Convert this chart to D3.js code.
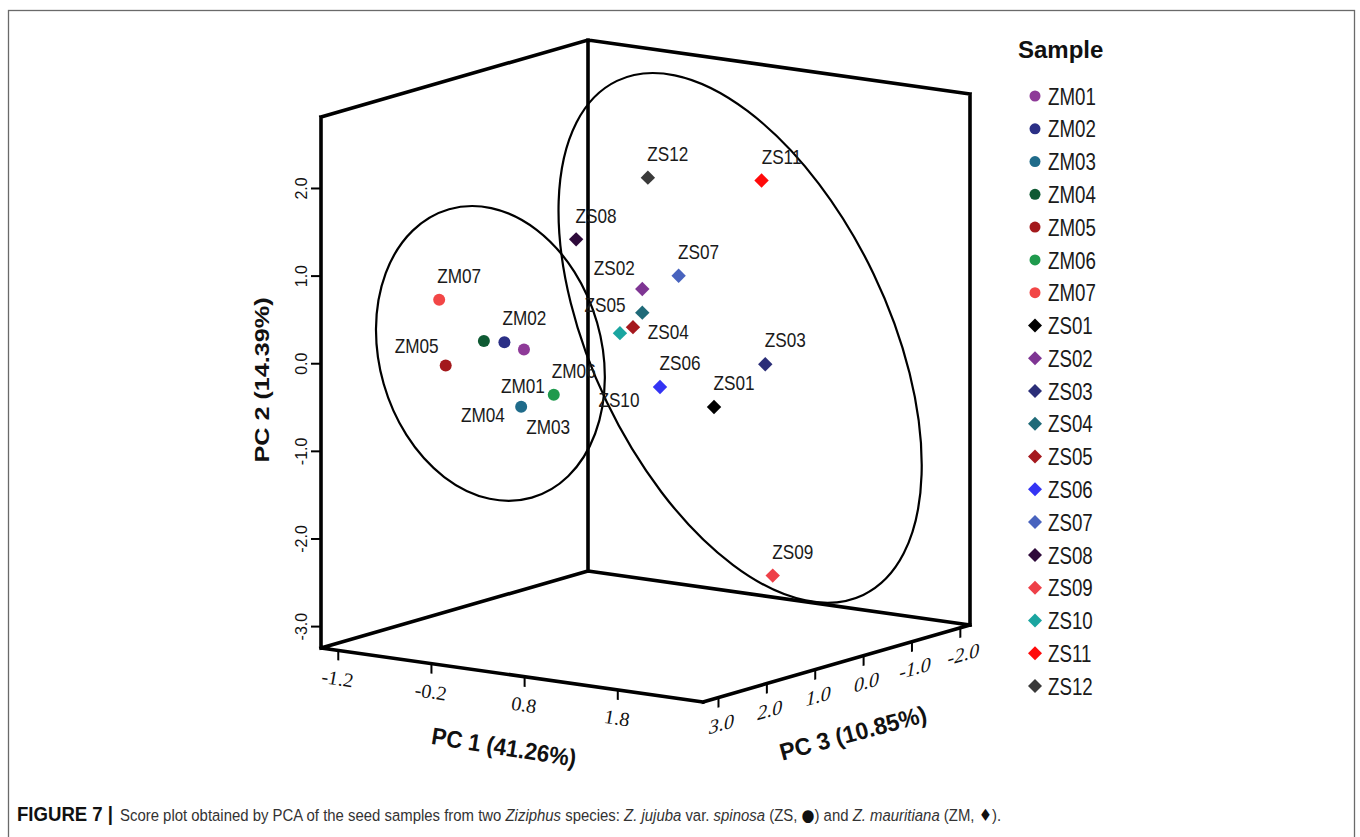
<!DOCTYPE html>
<html>
<head>
<meta charset="utf-8">
<script src="https://cdn.jsdelivr.net/npm/d3@7"></script>
<style>
  html, body { margin: 0; padding: 0; background: #ffffff; }
  svg { display: block; }
</style>
</head>
<body>
<svg id="chart" width="1360" height="837"></svg>
<script>
// ---------------- DATA ----------------
const samples = ["ZM01","ZM02","ZM03","ZM04","ZM05","ZM06","ZM07",
                 "ZS01","ZS02","ZS03","ZS04","ZS05","ZS06","ZS07","ZS08","ZS09","ZS10","ZS11","ZS12"];
// scores read in the PC3 = 0 depth plane (depth cannot be recovered from a 2-D picture)
const pc1Scores = [-0.92,-1.13,-0.95,-1.35,-1.76,-0.60,-1.83,
                    1.12, 0.35, 1.67, 0.35, 0.25, 0.54, 0.74,-0.36, 1.75, 0.11, 1.63, 0.41];
const pc2Scores = [-0.30,-0.25,-0.96,-0.27,-0.61,-0.77, 0.13,
                   -0.65, 0.58,-0.08, 0.31, 0.13,-0.51, 0.79, 1.04,-2.48, 0.04, 2.01, 1.86];
const sampleColors = ["#8e3a98","#2b2f86","#1f6b8a","#0f5a33","#a3191c","#1f9a4d","#f24646",
                      "#000000","#7e3593","#2b2e78","#1f6a78","#a5181e","#3434f4","#4863be",
                      "#2e0a3a","#ee4048","#1aa5a0","#ff0a0a","#3a3a3a"];
const pc1Domain = [-1.38, 2.72];
const pc2Domain = [-3.25, 2.81];
const pc3Domain = [3.31, -2.21];
const pc3Plane = 0;
const pc1Ticks = [-1.2, -0.2, 0.8, 1.8];
const pc2Ticks = [2.0, 1.0, 0.0, -1.0, -2.0, -3.0];
const pc3Ticks = [3.0, 2.0, 1.0, 0.0, -1.0, -2.0];
const axisTitles = ["PC 1 (41.26%)", "PC 2 (14.39%)", "PC 3 (10.85%)"];
const legendTitle = "Sample";
// group ellipses (ZM group, ZS group): centres in the same PC3 = 0 plane
const ellipseNames = ["ZM", "ZS"];
const ellipsePC1 = [-1.28, 1.40];
const ellipsePC2 = [-0.40, 0.18];

// ---------------- LAYOUT / STYLE ----------------
const svg = d3.select("#chart");
const ORIGIN = [321, 648];     // front-left-bottom corner of the box
const EDGE1 = [382, 54];       // PC1 edge on screen
const EDGE3 = [267, -77];      // PC3 edge on screen
const EDGE2 = 531;             // PC2 height on screen

const s1 = d3.scaleLinear().domain(pc1Domain).range([0, 1]);
const s2 = d3.scaleLinear().domain(pc2Domain).range([0, 1]);
const s3 = d3.scaleLinear().domain(pc3Domain).range([0, 1]);
function proj(p1, p2, p3) {
  const a = s1(p1), b = s3(p3), c = s2(p2);
  return [ORIGIN[0] + a * EDGE1[0] + b * EDGE3[0],
          ORIGIN[1] + a * EDGE1[1] + b * EDGE3[1] - c * EDGE2];
}

// outer figure frame
svg.append("rect")
  .attr("x", 8.5).attr("y", 10.5).attr("width", 1346).attr("height", 860)
  .attr("fill", "none").attr("stroke", "#6a6a6a").attr("stroke-width", 1.3);

// ---------------- box ----------------
const p1a = pc1Domain[0], p1b = pc1Domain[1];
const p2a = pc2Domain[0], p2b = pc2Domain[1];
const p3f = pc3Domain[0], p3k = pc3Domain[1];
const A  = proj(p1a, p2a, p3f), B = proj(p1b, p2a, p3f), C = proj(p1b, p2a, p3k), D = proj(p1a, p2a, p3k);
const At = proj(p1a, p2b, p3f), Ct = proj(p1b, p2b, p3k), Dt = proj(p1a, p2b, p3k);
const boxG = svg.append("g");
const boxPath = d3.path();
[[A,B],[B,C],[C,D],[D,A],[A,At],[D,Dt],[C,Ct]].forEach(([u,v]) => { boxPath.moveTo(u[0],u[1]); boxPath.lineTo(v[0],v[1]); });
boxPath.moveTo(At[0], At[1]); boxPath.lineTo(Dt[0], Dt[1]); boxPath.lineTo(Ct[0], Ct[1]);
boxG.append("path").attr("d", boxPath.toString())
  .attr("fill", "none").attr("stroke", "#000").attr("stroke-width", 3.6)
  .attr("stroke-linejoin", "miter").attr("stroke-linecap", "square");

const fmt = d => d.toFixed(1);

// PC1 axis (sheared along the front-left floor edge)
const x1 = d3.scaleLinear().domain(pc1Domain).range([0, EDGE1[0]]);
const g1 = svg.append("g")
  .attr("transform", `matrix(1,${EDGE1[1]/EDGE1[0]},0,1,${A[0]},${A[1]})`)
  .call(d3.axisBottom(x1).tickValues(pc1Ticks).tickSize(10).tickFormat(fmt));
g1.select(".domain").remove();
g1.selectAll(".tick line").attr("stroke", "#000").attr("stroke-width", 2);
g1.selectAll(".tick text")
  .attr("y", 28).attr("x", -1).attr("dy", "0.35em")
  .attr("font-family", "'Liberation Serif', 'DejaVu Serif', serif")
  .attr("font-style", "italic").attr("font-size", 20).attr("fill", "#111");

// PC3 axis (front-right floor edge)
const x3 = d3.scaleLinear().domain(pc3Domain).range([0, EDGE3[0]]);
const g3 = svg.append("g")
  .attr("transform", `matrix(1,${EDGE3[1]/EDGE3[0]},0,1,${B[0]},${B[1]})`)
  .call(d3.axisBottom(x3).tickValues(pc3Ticks).tickSize(10).tickFormat(fmt));
g3.select(".domain").remove();
g3.selectAll(".tick line").attr("stroke", "#000").attr("stroke-width", 2);
g3.selectAll(".tick text")
  .attr("y", 27).attr("x", 3).attr("dy", "0.35em")
  .attr("font-family", "'Liberation Serif', 'DejaVu Serif', serif")
  .attr("font-style", "italic").attr("font-size", 20).attr("fill", "#111");

// PC2 axis (front-left vertical edge)
const y2 = d3.scaleLinear().domain(pc2Domain).range([A[1], At[1]]);
const g2 = svg.append("g")
  .attr("transform", `translate(${A[0]},0)`)
  .call(d3.axisLeft(y2).tickValues(pc2Ticks).tickSize(10).tickFormat(fmt));
g2.select(".domain").remove();
g2.selectAll(".tick line").attr("stroke", "#000").attr("stroke-width", 2);
g2.selectAll(".tick text")
  .attr("x", 0).attr("y", 0).attr("dy", "0.35em")
  .attr("transform", "translate(-20,0) rotate(-90)")
  .attr("text-anchor", "middle")
  .attr("font-family", "'Liberation Sans', Arial, sans-serif")
  .attr("font-size", 16).attr("fill", "#111");

// axis titles
const titleFont = "'Liberation Sans', Arial, sans-serif";
svg.append("text").text(axisTitles[0])
  .attr("transform", "translate(504,747) rotate(9) scale(0.93,1)")
  .attr("text-anchor", "middle").attr("dy", "0.35em")
  .attr("font-family", titleFont).attr("font-weight", "bold").attr("font-size", 24).attr("fill", "#111");
svg.append("text").text(axisTitles[1])
  .attr("transform", "translate(262,380) rotate(-90) scale(1.2,1)")
  .attr("text-anchor", "middle").attr("dy", "0.35em")
  .attr("font-family", titleFont).attr("font-weight", "bold").attr("font-size", 21).attr("fill", "#111");
svg.append("text").text(axisTitles[2])
  .attr("transform", "translate(853,733) rotate(-15) scale(0.96,1)")
  .attr("text-anchor", "middle").attr("dy", "0.35em")
  .attr("font-family", titleFont).attr("font-weight", "bold").attr("font-size", 24).attr("fill", "#111");

// ---------------- ellipses ----------------
const ellipseShape = { ZM: { rx: 111, ry: 150, rot: -16 }, ZS: { rx: 148, ry: 285, rot: -25.6 } };
ellipseNames.forEach((nm, i) => {
  const c = proj(ellipsePC1[i], ellipsePC2[i], pc3Plane);
  const sh = ellipseShape[nm];
  svg.append("ellipse")
    .attr("transform", `translate(${c[0]},${c[1]}) rotate(${sh.rot})`)
    .attr("rx", sh.rx).attr("ry", sh.ry)
    .attr("fill", "none").attr("stroke", "#000").attr("stroke-width", 2.2);
});

// ---------------- points ----------------
const points = samples.map((s, i) => ({
  name: s, color: sampleColors[i], shape: s.startsWith("ZM") ? "circle" : "diamond",
  xy: proj(pc1Scores[i], pc2Scores[i], pc3Plane)
}));
const circleSym = d3.symbol().type(d3.symbolCircle).size(Math.PI * 6 * 6);
const diamondSym = d3.symbol().type(d3.symbolSquare).size(2 * 7.2 * 7.2);

// label placement relative to each marker (centre of text)
const defaultOffset = [20, -24];
const labelOffsets = {
  ZM01: [-1, 36], ZM03: [27, 20], ZM04: [-1, 74], ZM05: [-29, -20],
  ZS02: [-28, -21], ZS04: [26, 19], ZS05: [-28, -22], ZS10: [-1, 67]
};
const labelFont = "'Liberation Sans', Arial, sans-serif";
const labG = svg.append("g");
points.forEach(p => {
  const o = labelOffsets[p.name] || defaultOffset;
  labG.append("text").text(p.name)
    .attr("transform", `translate(${p.xy[0] + o[0]},${p.xy[1] + o[1]}) scale(0.86,1)`)
    .attr("text-anchor", "middle").attr("dy", "0.36em")
    .attr("font-family", labelFont).attr("font-size", 20).attr("fill", "#1a1a1a");
});
const ptG = svg.append("g");
points.forEach(p => {
  ptG.append("path")
    .attr("d", p.shape === "circle" ? circleSym() : diamondSym())
    .attr("transform", `translate(${p.xy[0]},${p.xy[1]})` + (p.shape === "circle" ? "" : " rotate(45)"))
    .attr("fill", p.color);
});

// ---------------- legend ----------------
const lg = svg.append("g");
lg.append("text").text(legendTitle)
  .attr("x", 1018).attr("y", 58)
  .attr("font-family", labelFont).attr("font-weight", "bold").attr("font-size", 24).attr("fill", "#111");
const rowY = d3.scalePoint().domain(samples).range([96, 686]);
const legCircle = d3.symbol().type(d3.symbolCircle).size(Math.PI * 5.5 * 5.5);
const legDiamond = d3.symbol().type(d3.symbolSquare).size(2 * 7 * 7);
points.forEach(p => {
  const y = rowY(p.name);
  lg.append("path")
    .attr("d", p.shape === "circle" ? legCircle() : legDiamond())
    .attr("transform", `translate(1035,${y})` + (p.shape === "circle" ? "" : " rotate(45)"))
    .attr("fill", p.color);
  lg.append("text").text(p.name)
    .attr("transform", `translate(1048,${y}) scale(0.78,1)`)
    .attr("dy", "0.36em")
    .attr("font-family", labelFont).attr("font-size", 24).attr("fill", "#1a1a1a");
});

// ---------------- caption ----------------
const capFont = "'Liberation Sans', Arial, sans-serif";
svg.append("text").text("FIGURE 7 |")
  .attr("transform", "translate(17,821) scale(0.93,1)")
  .attr("font-family", capFont).attr("font-weight", "bold").attr("font-size", 20).attr("fill", "#111");
const cap = svg.append("text")
  .attr("transform", "translate(120,821) scale(0.878,1)")
  .attr("font-family", capFont).attr("font-size", 17).attr("fill", "#333");
const capParts = [
  ["Score plot obtained by PCA of the seed samples from two ", "normal"],
  ["Ziziphus", "italic"],
  [" species: ", "normal"],
  ["Z. jujuba", "italic"],
  [" var. ", "normal"],
  ["spinosa", "italic"],
  [" (ZS, ", "normal"],
  ["\u25CF", "sym"],
  [") and ", "normal"],
  ["Z. mauritiana", "italic"],
  [" (ZM, ", "normal"],
  ["\u2666", "sym"],
  [").", "normal"]
];
capParts.forEach(([t, st]) => {
  const ts = cap.append("tspan").text(t);
  if (st === "sym") ts.attr("font-family", "'DejaVu Sans', sans-serif").attr("font-size", 17).attr("fill", "#111");
  else ts.attr("font-style", st);
});
</script>
</body>
</html>
